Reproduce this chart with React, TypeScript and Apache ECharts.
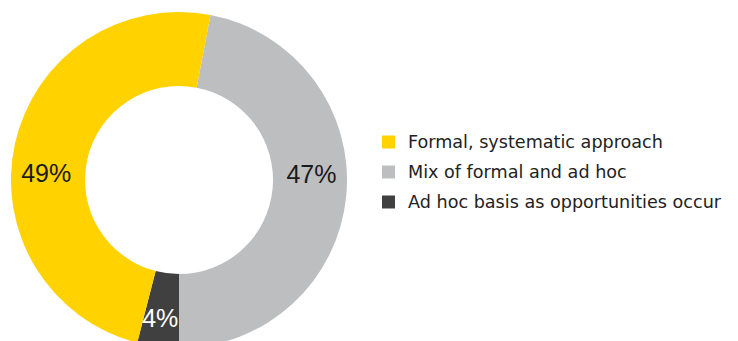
import React, { useEffect, useRef } from "react";
import * as echarts from "echarts";

const categories = ["Mix of formal and ad hoc", "Ad hoc basis as opportunities occur", "Formal, systematic approach"];
const values = [47, 4, 49];
const colors = ["#BDBEC0", "#404041", "#FFD200"];
const labelColors = ["#1a1a1a", "#ffffff", "#1a1a1a"];
const labelOffsets: [number, number][] = [[-1, -19], [-2, 5], [-2, 22]];
const legendOrder = ["Formal, systematic approach", "Mix of formal and ad hoc", "Ad hoc basis as opportunities occur"];

export default function App() {
  const ref = useRef<HTMLDivElement>(null);
  useEffect(() => {
    if (!ref.current) return;
    const chart = echarts.init(ref.current, null, { renderer: "svg" });
    chart.setOption({
      animation: false,
      legend: {
        orient: "vertical",
        left: 382,
        top: 133,
        padding: 0,
        itemWidth: 13,
        itemHeight: 13,
        itemGap: 12,
        icon: "rect",
        selectedMode: false,
        data: legendOrder,
        textStyle: {
          fontFamily: "DejaVu Sans, sans-serif",
          fontSize: 17.6,
          lineHeight: 18,
          color: "#222222",
          padding: [0, 0, 0, 8],
        },
      },
      series: [
        {
          type: "pie",
          center: [179, 180],
          radius: [94, 168],
          startAngle: 79.2,
          clockwise: true,
          silent: true,
          avoidLabelOverlap: false,
          label: {
            show: true,
            position: "inside",
            formatter: "{c}%",
            fontFamily: "Liberation Sans, Arial, sans-serif",
            fontSize: 25,
          },
          labelLine: { show: false },
          itemStyle: { borderWidth: 0 },
          data: categories.map((name, i) => ({
            name,
            value: values[i],
            itemStyle: { color: colors[i] },
            label: { color: labelColors[i], offset: labelOffsets[i] },
          })),
        },
      ],
    });
    return () => chart.dispose();
  }, []);
  return <div ref={ref} style={{ position: "absolute", left: 0, top: 0, width: 738, height: 341 }} />;
}
